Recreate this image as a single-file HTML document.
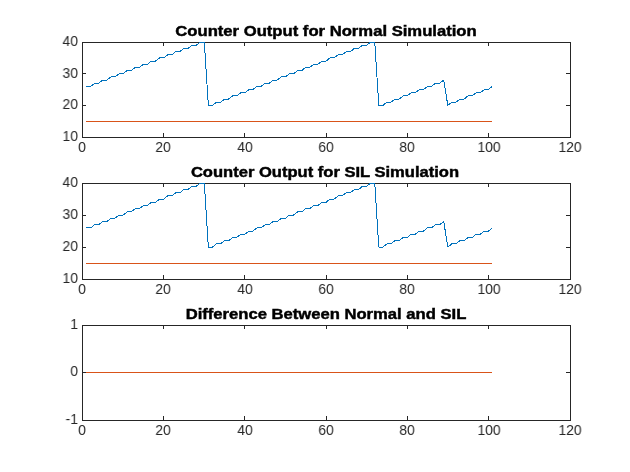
<!DOCTYPE html>
<html>
<head>
<meta charset="utf-8">
<title>Counter Output: Normal vs SIL Simulation</title>
<style>
html,body{margin:0;padding:0;background:#fff;}
body{width:630px;height:472px;overflow:hidden;font-family:"Liberation Sans",sans-serif;}
#fig{position:relative;width:630px;height:472px;background:#fff;overflow:hidden;}
#fig svg{position:absolute;left:0;top:0;}
.xt,.yt,.tt{will-change:transform;position:absolute;white-space:nowrap;line-height:16px;height:16px;color:#262626;font-family:"Liberation Sans",sans-serif;}
.xt{width:60px;text-align:center;font-size:14.5px;transform:scaleX(0.957);transform-origin:50% 50%;}
.yt{width:40px;text-align:right;font-size:14.5px;transform:scaleX(0.957);transform-origin:100% 50%;}
.tt{width:400px;text-align:center;font-size:14.7px;font-weight:bold;color:#000;-webkit-text-stroke:0.45px #000;transform-origin:50% 50%;}
</style>
</head>
<body>
<div id="fig">
<svg width="630" height="472" viewBox="0 0 630 472">
<rect x="82.5" y="42.5" width="488" height="95" fill="none" stroke="#262626" stroke-width="1"/>
<path d="M163.5 137.5v-4.5M163.5 42.5v3.5M244.5 137.5v-4.5M244.5 42.5v3.5M326.5 137.5v-4.5M326.5 42.5v3.5M407.5 137.5v-4.5M407.5 42.5v3.5M488.5 137.5v-4.5M488.5 42.5v3.5M82.5 105.5h3.5M570.5 105.5h-4.5M82.5 73.5h3.5M570.5 73.5h-4.5" fill="none" stroke="#262626" stroke-width="1"/>
<polyline points="86,86.38 86.61,86.38 90.67,86.38 94.72,83.22 98.78,83.22 102.84,80.05 106.9,80.05 110.96,76.88 115.02,76.88 119.07,73.72 123.13,73.72 127.19,70.55 131.25,70.55 135.31,67.38 139.37,67.38 143.43,64.22 147.48,64.22 151.54,61.05 155.6,61.05 159.66,57.88 163.72,57.88 167.77,54.72 171.83,54.72 175.89,51.55 179.95,51.55 184.01,48.38 188.07,48.38 192.12,45.22 196.18,45.22 200.24,42.05 204.3,42.05 208.36,105.38 212.42,105.38 216.48,102.22 220.53,102.22 224.59,99.05 228.65,99.05 232.71,95.88 236.77,95.88 240.82,92.72 244.88,92.72 248.94,89.55 253,89.55 257.06,86.38 261.12,86.38 265.18,83.22 269.23,83.22 273.29,80.05 277.35,80.05 281.41,76.88 285.47,76.88 289.52,73.72 293.58,73.72 297.64,70.55 301.7,70.55 305.76,67.38 309.82,67.38 313.88,64.22 317.93,64.22 321.99,61.05 326.05,61.05 330.11,57.88 334.17,57.88 338.23,54.72 342.28,54.72 346.34,51.55 350.4,51.55 354.46,48.38 358.52,48.38 362.57,45.22 366.63,45.22 370.69,42.05 374.75,42.05 378.81,105.38 382.87,105.38 386.93,102.22 390.98,102.22 395.04,99.05 399.1,99.05 403.16,95.88 407.22,95.88 411.28,92.72 415.33,92.72 419.39,89.55 423.45,89.55 427.51,86.38 431.57,86.38 435.62,83.22 439.68,83.22 443.74,80.05 447.8,105.38 451.86,102.22 455.92,102.22 459.98,99.05 464.03,99.05 468.09,95.88 472.15,95.88 476.21,92.72 480.27,92.72 484.32,89.55 488.38,89.55 492,86.73" fill="none" stroke="#0072BD" stroke-width="1" stroke-linejoin="bevel" shape-rendering="crispEdges"/>
<line x1="86" y1="121.5" x2="492" y2="121.5" stroke="#D95319" stroke-width="1" shape-rendering="crispEdges"/>
<rect x="82.5" y="183.5" width="488" height="96" fill="none" stroke="#262626" stroke-width="1"/>
<path d="M163.5 279.5v-4.5M163.5 183.5v3.5M244.5 279.5v-4.5M244.5 183.5v3.5M326.5 279.5v-4.5M326.5 183.5v3.5M407.5 279.5v-4.5M407.5 183.5v3.5M488.5 279.5v-4.5M488.5 183.5v3.5M82.5 247.5h3.5M570.5 247.5h-4.5M82.5 215.5h3.5M570.5 215.5h-4.5" fill="none" stroke="#262626" stroke-width="1"/>
<polyline points="86,227.85 86.61,227.85 90.67,227.85 94.72,224.65 98.78,224.65 102.84,221.45 106.9,221.45 110.96,218.25 115.02,218.25 119.07,215.05 123.13,215.05 127.19,211.85 131.25,211.85 135.31,208.65 139.37,208.65 143.43,205.45 147.48,205.45 151.54,202.25 155.6,202.25 159.66,199.05 163.72,199.05 167.77,195.85 171.83,195.85 175.89,192.65 179.95,192.65 184.01,189.45 188.07,189.45 192.12,186.25 196.18,186.25 200.24,183.05 204.3,183.05 208.36,247.05 212.42,247.05 216.48,243.85 220.53,243.85 224.59,240.65 228.65,240.65 232.71,237.45 236.77,237.45 240.82,234.25 244.88,234.25 248.94,231.05 253,231.05 257.06,227.85 261.12,227.85 265.18,224.65 269.23,224.65 273.29,221.45 277.35,221.45 281.41,218.25 285.47,218.25 289.52,215.05 293.58,215.05 297.64,211.85 301.7,211.85 305.76,208.65 309.82,208.65 313.88,205.45 317.93,205.45 321.99,202.25 326.05,202.25 330.11,199.05 334.17,199.05 338.23,195.85 342.28,195.85 346.34,192.65 350.4,192.65 354.46,189.45 358.52,189.45 362.57,186.25 366.63,186.25 370.69,183.05 374.75,183.05 378.81,247.05 382.87,247.05 386.93,243.85 390.98,243.85 395.04,240.65 399.1,240.65 403.16,237.45 407.22,237.45 411.28,234.25 415.33,234.25 419.39,231.05 423.45,231.05 427.51,227.85 431.57,227.85 435.62,224.65 439.68,224.65 443.74,221.45 447.8,247.05 451.86,243.85 455.92,243.85 459.98,240.65 464.03,240.65 468.09,237.45 472.15,237.45 476.21,234.25 480.27,234.25 484.32,231.05 488.38,231.05 492,228.2" fill="none" stroke="#0072BD" stroke-width="1" stroke-linejoin="bevel" shape-rendering="crispEdges"/>
<line x1="86" y1="263.5" x2="492" y2="263.5" stroke="#D95319" stroke-width="1" shape-rendering="crispEdges"/>
<rect x="82.5" y="325.5" width="488" height="95" fill="none" stroke="#262626" stroke-width="1"/>
<path d="M163.5 420.5v-4.5M163.5 325.5v3.5M244.5 420.5v-4.5M244.5 325.5v3.5M326.5 420.5v-4.5M326.5 325.5v3.5M407.5 420.5v-4.5M407.5 325.5v3.5M488.5 420.5v-4.5M488.5 325.5v3.5M82.5 372.5h3.5M570.5 372.5h-4.5" fill="none" stroke="#262626" stroke-width="1"/>
<line x1="86" y1="372.5" x2="492" y2="372.5" stroke="#D95319" stroke-width="1" shape-rendering="crispEdges"/>
</svg>
<div class="xt" style="left:52px;top:139.1px">0</div>
<div class="xt" style="left:133.33px;top:139.1px">20</div>
<div class="xt" style="left:214.67px;top:139.1px">40</div>
<div class="xt" style="left:296px;top:139.1px">60</div>
<div class="xt" style="left:377.33px;top:139.1px">80</div>
<div class="xt" style="left:458.67px;top:139.1px">100</div>
<div class="xt" style="left:540px;top:139.1px">120</div>
<div class="yt" style="left:37.5px;top:128.05px">10</div>
<div class="yt" style="left:37.5px;top:96.05px">20</div>
<div class="yt" style="left:37.5px;top:64.65px">30</div>
<div class="yt" style="left:37.5px;top:33.05px">40</div>
<div class="tt" style="left:126px;top:23px;transform:scaleX(1.133)">Counter Output for Normal Simulation</div>
<div class="xt" style="left:52px;top:281.1px">0</div>
<div class="xt" style="left:133.33px;top:281.1px">20</div>
<div class="xt" style="left:214.67px;top:281.1px">40</div>
<div class="xt" style="left:296px;top:281.1px">60</div>
<div class="xt" style="left:377.33px;top:281.1px">80</div>
<div class="xt" style="left:458.67px;top:281.1px">100</div>
<div class="xt" style="left:540px;top:281.1px">120</div>
<div class="yt" style="left:37.5px;top:270.05px">10</div>
<div class="yt" style="left:37.5px;top:238.05px">20</div>
<div class="yt" style="left:37.5px;top:206.05px">30</div>
<div class="yt" style="left:37.5px;top:174.05px">40</div>
<div class="tt" style="left:125.3px;top:164px;transform:scaleX(1.127)">Counter Output for SIL Simulation</div>
<div class="xt" style="left:52px;top:422.1px">0</div>
<div class="xt" style="left:133.33px;top:422.1px">20</div>
<div class="xt" style="left:214.67px;top:422.1px">40</div>
<div class="xt" style="left:296px;top:422.1px">60</div>
<div class="xt" style="left:377.33px;top:422.1px">80</div>
<div class="xt" style="left:458.67px;top:422.1px">100</div>
<div class="xt" style="left:540px;top:422.1px">120</div>
<div class="yt" style="left:37.5px;top:411.05px">-1</div>
<div class="yt" style="left:37.5px;top:363.05px">0</div>
<div class="yt" style="left:37.5px;top:316.05px">1</div>
<div class="tt" style="left:125.75px;top:306px;transform:scaleX(1.131)">Difference Between Normal and SIL</div>
</div>
</body>
</html>
